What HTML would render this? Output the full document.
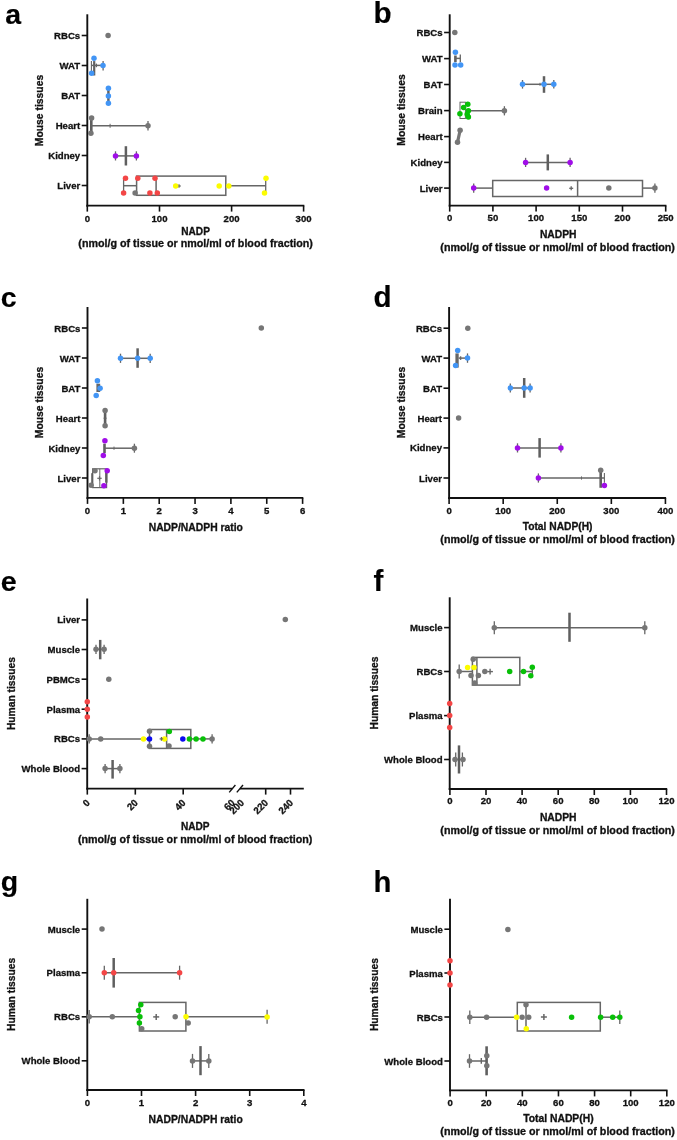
<!DOCTYPE html>
<html><head><meta charset="utf-8"><title>NADP figure</title>
<style>html,body{margin:0;padding:0;background:#fff;}svg{display:block;will-change:transform;}</style></head>
<body><svg width="677" height="1140" viewBox="0 0 677 1140">
<rect width="677" height="1140" fill="#fff"/>
<text x="5.2" y="23.6" font-family="Liberation Sans" font-weight="bold" font-size="28.5" fill="#000" stroke="#000" stroke-width="0.15">a</text>
<line x1="87.3" y1="14.3" x2="87.3" y2="206.55" stroke="#111" stroke-width="1.9"/>
<line x1="81.7" y1="35.5" x2="87.3" y2="35.5" stroke="#111" stroke-width="1.6"/>
<text transform="translate(80.20,39.00) scale(0.98,1)" font-family="Liberation Sans" font-weight="bold" font-size="9.8" text-anchor="end" fill="#111" stroke="#111" stroke-width="0.3">RBCs</text>
<line x1="81.7" y1="65.5" x2="87.3" y2="65.5" stroke="#111" stroke-width="1.6"/>
<text transform="translate(80.20,69.00) scale(0.98,1)" font-family="Liberation Sans" font-weight="bold" font-size="9.8" text-anchor="end" fill="#111" stroke="#111" stroke-width="0.3">WAT</text>
<line x1="81.7" y1="95.5" x2="87.3" y2="95.5" stroke="#111" stroke-width="1.6"/>
<text transform="translate(80.20,99.00) scale(0.98,1)" font-family="Liberation Sans" font-weight="bold" font-size="9.8" text-anchor="end" fill="#111" stroke="#111" stroke-width="0.3">BAT</text>
<line x1="81.7" y1="125.5" x2="87.3" y2="125.5" stroke="#111" stroke-width="1.6"/>
<text transform="translate(80.20,129.00) scale(0.98,1)" font-family="Liberation Sans" font-weight="bold" font-size="9.8" text-anchor="end" fill="#111" stroke="#111" stroke-width="0.3">Heart</text>
<line x1="81.7" y1="155.5" x2="87.3" y2="155.5" stroke="#111" stroke-width="1.6"/>
<text transform="translate(80.20,159.00) scale(0.98,1)" font-family="Liberation Sans" font-weight="bold" font-size="9.8" text-anchor="end" fill="#111" stroke="#111" stroke-width="0.3">Kidney</text>
<line x1="81.7" y1="185.5" x2="87.3" y2="185.5" stroke="#111" stroke-width="1.6"/>
<text transform="translate(80.20,189.00) scale(0.98,1)" font-family="Liberation Sans" font-weight="bold" font-size="9.8" text-anchor="end" fill="#111" stroke="#111" stroke-width="0.3">Liver</text>
<line x1="86.35" y1="205.6" x2="304.3" y2="205.6" stroke="#111" stroke-width="1.9"/>
<line x1="87.3" y1="205.6" x2="87.3" y2="211.6" stroke="#111" stroke-width="1.6"/>
<text transform="translate(87.30,221.70) scale(0.98,1)" font-family="Liberation Sans" font-weight="bold" font-size="9.8" text-anchor="middle" fill="#111" stroke="#111" stroke-width="0.3">0</text>
<line x1="159.5" y1="205.6" x2="159.5" y2="211.6" stroke="#111" stroke-width="1.6"/>
<text transform="translate(159.50,221.70) scale(0.98,1)" font-family="Liberation Sans" font-weight="bold" font-size="9.8" text-anchor="middle" fill="#111" stroke="#111" stroke-width="0.3">100</text>
<line x1="231.6" y1="205.6" x2="231.6" y2="211.6" stroke="#111" stroke-width="1.6"/>
<text transform="translate(231.60,221.70) scale(0.98,1)" font-family="Liberation Sans" font-weight="bold" font-size="9.8" text-anchor="middle" fill="#111" stroke="#111" stroke-width="0.3">200</text>
<line x1="303.6" y1="205.6" x2="303.6" y2="211.6" stroke="#111" stroke-width="1.6"/>
<text transform="translate(303.60,221.70) scale(0.98,1)" font-family="Liberation Sans" font-weight="bold" font-size="9.8" text-anchor="middle" fill="#111" stroke="#111" stroke-width="0.3">300</text>
<text x="0" y="0" font-family="Liberation Sans" font-weight="bold" font-size="10.4" text-anchor="middle" fill="#111" stroke="#111" stroke-width="0.3" transform="translate(43.0,110.5) rotate(-90)" textLength="71.5" lengthAdjust="spacingAndGlyphs">Mouse tissues</text>
<text x="195.6" y="234.8" font-family="Liberation Sans" font-weight="bold" font-size="10.1" text-anchor="middle" fill="#111" stroke="#111" stroke-width="0.3" >NADP</text>
<text x="195.6" y="246.6" font-family="Liberation Sans" font-weight="bold" font-size="10.3" text-anchor="middle" fill="#111" stroke="#111" stroke-width="0.3" textLength="234.5" lengthAdjust="spacingAndGlyphs">(nmol/g of tissue or nmol/ml of blood fraction)</text>
<circle cx="108.1" cy="35.6" r="2.75" fill="#767676"/>
<line x1="91.4" y1="61.1" x2="91.4" y2="74.7" stroke="#666666" stroke-width="1.1"/>
<line x1="94.2" y1="61.1" x2="94.2" y2="75.5" stroke="#5f5f5f" stroke-width="2.2"/>
<line x1="91.4" y1="65.4" x2="103" y2="65.4" stroke="#666666" stroke-width="1.5"/>
<line x1="103.1" y1="61.1" x2="103.1" y2="70.5" stroke="#666666" stroke-width="1.3"/>
<line x1="96.4" y1="63.6" x2="96.4" y2="67.2" stroke="#666666" stroke-width="1.3"/>
<circle cx="94" cy="58.2" r="2.75" fill="#4295f5"/>
<circle cx="91.6" cy="73.2" r="2.75" fill="#4295f5"/>
<circle cx="103" cy="65.5" r="2.75" fill="#4295f5"/>
<line x1="108.4" y1="88.3" x2="108.4" y2="103.3" stroke="#5f5f5f" stroke-width="2.4"/>
<circle cx="108.4" cy="88.3" r="2.75" fill="#4295f5"/>
<circle cx="108.4" cy="95.9" r="2.75" fill="#4295f5"/>
<circle cx="108.4" cy="103.3" r="2.75" fill="#4295f5"/>
<line x1="91.3" y1="119.3" x2="91.3" y2="131.7" stroke="#5f5f5f" stroke-width="2.6"/>
<line x1="91.3" y1="125.8" x2="148" y2="125.8" stroke="#666666" stroke-width="1.5"/>
<line x1="148" y1="121.1" x2="148" y2="130.5" stroke="#666666" stroke-width="1.3"/>
<line x1="110.1" y1="123.8" x2="110.1" y2="127.8" stroke="#666666" stroke-width="1.0"/>
<circle cx="91.6" cy="118.1" r="2.75" fill="#767676"/>
<circle cx="90.9" cy="133.2" r="2.75" fill="#767676"/>
<circle cx="148" cy="125.8" r="2.75" fill="#767676"/>
<line x1="115.5" y1="155.9" x2="136.4" y2="155.9" stroke="#666666" stroke-width="1.5"/>
<line x1="115.5" y1="151.3" x2="115.5" y2="160.5" stroke="#666666" stroke-width="1.3"/>
<line x1="136.4" y1="151.3" x2="136.4" y2="160.5" stroke="#666666" stroke-width="1.3"/>
<line x1="125.9" y1="146.2" x2="125.9" y2="165.5" stroke="#5f5f5f" stroke-width="2.5"/>
<circle cx="115.5" cy="155.9" r="2.75" fill="#a00ee8"/>
<circle cx="136.4" cy="155.9" r="2.75" fill="#a00ee8"/>
<line x1="123.6" y1="178.5" x2="123.6" y2="192.9" stroke="#666666" stroke-width="1.3"/>
<line x1="123.6" y1="185.7" x2="136.6" y2="185.7" stroke="#666666" stroke-width="1.5"/>
<rect x="136.6" y="176.1" width="89.2" height="19.2" fill="none" stroke="#666666" stroke-width="1.5"/>
<line x1="156.1" y1="176.1" x2="156.1" y2="195.3" stroke="#666666" stroke-width="1.5"/>
<line x1="225.8" y1="185.7" x2="265.7" y2="185.7" stroke="#666666" stroke-width="1.5"/>
<line x1="265.7" y1="178.3" x2="265.7" y2="193.1" stroke="#666666" stroke-width="1.3"/>
<circle cx="125.5" cy="178.3" r="2.75" fill="#f34646"/>
<circle cx="137.8" cy="178.3" r="2.75" fill="#f34646"/>
<circle cx="155" cy="178.3" r="2.75" fill="#f34646"/>
<circle cx="123.6" cy="193" r="2.75" fill="#f34646"/>
<circle cx="149.9" cy="193" r="2.75" fill="#f34646"/>
<circle cx="157.3" cy="193" r="2.75" fill="#f34646"/>
<circle cx="135.1" cy="193" r="2.75" fill="#767676"/>
<line x1="177.2" y1="186" x2="180.8" y2="186" stroke="#666666" stroke-width="1.2"/>
<line x1="179" y1="184.2" x2="179" y2="187.8" stroke="#666666" stroke-width="1.2"/>
<circle cx="175.7" cy="186" r="2.75" fill="#fcfc00"/>
<circle cx="219.2" cy="186" r="2.75" fill="#fcfc00"/>
<circle cx="228.8" cy="186" r="2.75" fill="#fcfc00"/>
<circle cx="266" cy="178.3" r="2.75" fill="#fcfc00"/>
<circle cx="264.5" cy="193" r="2.75" fill="#fcfc00"/>
<text x="373.4" y="23.2" font-family="Liberation Sans" font-weight="bold" font-size="29.6" fill="#000" stroke="#000" stroke-width="0.15">b</text>
<line x1="449.7" y1="14.3" x2="449.7" y2="206.55" stroke="#111" stroke-width="1.9"/>
<line x1="444.1" y1="32.5" x2="449.7" y2="32.5" stroke="#111" stroke-width="1.6"/>
<text transform="translate(442.60,36.00) scale(0.98,1)" font-family="Liberation Sans" font-weight="bold" font-size="9.8" text-anchor="end" fill="#111" stroke="#111" stroke-width="0.3">RBCs</text>
<line x1="444.1" y1="58.6" x2="449.7" y2="58.6" stroke="#111" stroke-width="1.6"/>
<text transform="translate(442.60,62.10) scale(0.98,1)" font-family="Liberation Sans" font-weight="bold" font-size="9.8" text-anchor="end" fill="#111" stroke="#111" stroke-width="0.3">WAT</text>
<line x1="444.1" y1="84.5" x2="449.7" y2="84.5" stroke="#111" stroke-width="1.6"/>
<text transform="translate(442.60,88.00) scale(0.98,1)" font-family="Liberation Sans" font-weight="bold" font-size="9.8" text-anchor="end" fill="#111" stroke="#111" stroke-width="0.3">BAT</text>
<line x1="444.1" y1="110.6" x2="449.7" y2="110.6" stroke="#111" stroke-width="1.6"/>
<text transform="translate(442.60,114.10) scale(0.98,1)" font-family="Liberation Sans" font-weight="bold" font-size="9.8" text-anchor="end" fill="#111" stroke="#111" stroke-width="0.3">Brain</text>
<line x1="444.1" y1="136.6" x2="449.7" y2="136.6" stroke="#111" stroke-width="1.6"/>
<text transform="translate(442.60,140.10) scale(0.98,1)" font-family="Liberation Sans" font-weight="bold" font-size="9.8" text-anchor="end" fill="#111" stroke="#111" stroke-width="0.3">Heart</text>
<line x1="444.1" y1="162.4" x2="449.7" y2="162.4" stroke="#111" stroke-width="1.6"/>
<text transform="translate(442.60,165.90) scale(0.98,1)" font-family="Liberation Sans" font-weight="bold" font-size="9.8" text-anchor="end" fill="#111" stroke="#111" stroke-width="0.3">Kidney</text>
<line x1="444.1" y1="188.1" x2="449.7" y2="188.1" stroke="#111" stroke-width="1.6"/>
<text transform="translate(442.60,191.60) scale(0.98,1)" font-family="Liberation Sans" font-weight="bold" font-size="9.8" text-anchor="end" fill="#111" stroke="#111" stroke-width="0.3">Liver</text>
<line x1="448.75" y1="205.6" x2="666.4" y2="205.6" stroke="#111" stroke-width="1.9"/>
<line x1="449.7" y1="205.6" x2="449.7" y2="211.6" stroke="#111" stroke-width="1.6"/>
<text transform="translate(449.70,221.00) scale(0.98,1)" font-family="Liberation Sans" font-weight="bold" font-size="9.8" text-anchor="middle" fill="#111" stroke="#111" stroke-width="0.3">0</text>
<line x1="492.9" y1="205.6" x2="492.9" y2="211.6" stroke="#111" stroke-width="1.6"/>
<text transform="translate(492.90,221.00) scale(0.98,1)" font-family="Liberation Sans" font-weight="bold" font-size="9.8" text-anchor="middle" fill="#111" stroke="#111" stroke-width="0.3">50</text>
<line x1="536.1" y1="205.6" x2="536.1" y2="211.6" stroke="#111" stroke-width="1.6"/>
<text transform="translate(536.10,221.00) scale(0.98,1)" font-family="Liberation Sans" font-weight="bold" font-size="9.8" text-anchor="middle" fill="#111" stroke="#111" stroke-width="0.3">100</text>
<line x1="579.3" y1="205.6" x2="579.3" y2="211.6" stroke="#111" stroke-width="1.6"/>
<text transform="translate(579.30,221.00) scale(0.98,1)" font-family="Liberation Sans" font-weight="bold" font-size="9.8" text-anchor="middle" fill="#111" stroke="#111" stroke-width="0.3">150</text>
<line x1="622.5" y1="205.6" x2="622.5" y2="211.6" stroke="#111" stroke-width="1.6"/>
<text transform="translate(622.50,221.00) scale(0.98,1)" font-family="Liberation Sans" font-weight="bold" font-size="9.8" text-anchor="middle" fill="#111" stroke="#111" stroke-width="0.3">200</text>
<line x1="665.7" y1="205.6" x2="665.7" y2="211.6" stroke="#111" stroke-width="1.6"/>
<text transform="translate(665.70,221.00) scale(0.98,1)" font-family="Liberation Sans" font-weight="bold" font-size="9.8" text-anchor="middle" fill="#111" stroke="#111" stroke-width="0.3">250</text>
<text x="0" y="0" font-family="Liberation Sans" font-weight="bold" font-size="10.4" text-anchor="middle" fill="#111" stroke="#111" stroke-width="0.3" transform="translate(405.2,110.0) rotate(-90)" textLength="71.5" lengthAdjust="spacingAndGlyphs">Mouse tissues</text>
<text x="558.2" y="238.4" font-family="Liberation Sans" font-weight="bold" font-size="10.3" text-anchor="middle" fill="#111" stroke="#111" stroke-width="0.3" >NADPH</text>
<text x="557.6" y="250.9" font-family="Liberation Sans" font-weight="bold" font-size="10.3" text-anchor="middle" fill="#111" stroke="#111" stroke-width="0.3" textLength="234.5" lengthAdjust="spacingAndGlyphs">(nmol/g of tissue or nmol/ml of blood fraction)</text>
<circle cx="454.8" cy="32.6" r="2.75" fill="#767676"/>
<line x1="455.4" y1="55.5" x2="455.4" y2="62" stroke="#5f5f5f" stroke-width="2.6"/>
<line x1="455.4" y1="58.4" x2="460.3" y2="58.4" stroke="#666666" stroke-width="1.5"/>
<line x1="460.3" y1="54.5" x2="460.3" y2="62.3" stroke="#666666" stroke-width="1.3"/>
<circle cx="455.4" cy="52.3" r="2.75" fill="#4295f5"/>
<circle cx="455" cy="64.9" r="2.75" fill="#4295f5"/>
<circle cx="460.7" cy="64.9" r="2.75" fill="#4295f5"/>
<line x1="522.5" y1="84.3" x2="553.8" y2="84.3" stroke="#666666" stroke-width="1.5"/>
<line x1="522.5" y1="80.0" x2="522.5" y2="88.6" stroke="#666666" stroke-width="1.3"/>
<line x1="553.8" y1="80.0" x2="553.8" y2="88.6" stroke="#666666" stroke-width="1.3"/>
<line x1="544" y1="76.2" x2="544" y2="92.8" stroke="#5f5f5f" stroke-width="2.5"/>
<line x1="540" y1="82.8" x2="540" y2="85.8" stroke="#666666" stroke-width="1.0"/>
<circle cx="522.5" cy="84.3" r="2.75" fill="#4295f5"/>
<circle cx="544" cy="84.3" r="2.75" fill="#4295f5"/>
<circle cx="553.8" cy="84.3" r="2.75" fill="#4295f5"/>
<rect x="460" y="102.2" width="5.4" height="16.3" fill="none" stroke="#666666" stroke-width="1.0"/>
<line x1="465.4" y1="110.8" x2="504.4" y2="110.8" stroke="#666666" stroke-width="1.5"/>
<line x1="504.4" y1="106.2" x2="504.4" y2="115.4" stroke="#666666" stroke-width="1.3"/>
<circle cx="504.4" cy="110.8" r="2.75" fill="#767676"/>
<circle cx="467.8" cy="104.3" r="2.75" fill="#08c008"/>
<circle cx="463.6" cy="107.6" r="2.75" fill="#08c008"/>
<circle cx="468.4" cy="110.8" r="2.75" fill="#08c008"/>
<circle cx="459.9" cy="113.7" r="2.75" fill="#08c008"/>
<circle cx="467.2" cy="114.3" r="2.75" fill="#08c008"/>
<circle cx="468.4" cy="117" r="2.75" fill="#08c008"/>
<line x1="460.1" y1="130.3" x2="457.5" y2="142.3" stroke="#767676" stroke-width="3.2"/>
<circle cx="460.1" cy="130.3" r="2.75" fill="#767676"/>
<circle cx="457.5" cy="142.3" r="2.75" fill="#767676"/>
<line x1="525.6" y1="162.4" x2="570.1" y2="162.4" stroke="#666666" stroke-width="1.5"/>
<line x1="525.6" y1="157.8" x2="525.6" y2="167.0" stroke="#666666" stroke-width="1.3"/>
<line x1="570.1" y1="157.8" x2="570.1" y2="167.0" stroke="#666666" stroke-width="1.3"/>
<line x1="547.8" y1="154.4" x2="547.8" y2="170.4" stroke="#5f5f5f" stroke-width="2.5"/>
<circle cx="525.6" cy="162.4" r="2.75" fill="#a00ee8"/>
<circle cx="570.1" cy="162.4" r="2.75" fill="#a00ee8"/>
<line x1="473.7" y1="183.5" x2="473.7" y2="192.7" stroke="#666666" stroke-width="1.3"/>
<line x1="473.7" y1="188.1" x2="492.7" y2="188.1" stroke="#666666" stroke-width="1.5"/>
<rect x="492.7" y="180.5" width="149.8" height="16.0" fill="none" stroke="#666666" stroke-width="1.5"/>
<line x1="577.6" y1="180.5" x2="577.6" y2="196.5" stroke="#666666" stroke-width="1.5"/>
<line x1="642.5" y1="188.1" x2="654.9" y2="188.1" stroke="#666666" stroke-width="1.5"/>
<line x1="654.9" y1="183.5" x2="654.9" y2="192.7" stroke="#666666" stroke-width="1.3"/>
<circle cx="473.7" cy="188.1" r="2.75" fill="#a00ee8"/>
<circle cx="546.6" cy="188.1" r="2.75" fill="#a00ee8"/>
<line x1="569.2" y1="188.3" x2="573.2" y2="188.3" stroke="#666666" stroke-width="1.3"/>
<line x1="571.2" y1="186.3" x2="571.2" y2="190.3" stroke="#666666" stroke-width="1.3"/>
<circle cx="608.8" cy="188.1" r="2.75" fill="#767676"/>
<circle cx="654.9" cy="188.1" r="2.75" fill="#767676"/>
<text x="0.8" y="307.3" font-family="Liberation Sans" font-weight="bold" font-size="28.5" fill="#000" stroke="#000" stroke-width="0.15">c</text>
<line x1="87.5" y1="307" x2="87.5" y2="498.85" stroke="#111" stroke-width="1.9"/>
<line x1="81.9" y1="328" x2="87.5" y2="328" stroke="#111" stroke-width="1.6"/>
<text transform="translate(80.40,331.50) scale(0.98,1)" font-family="Liberation Sans" font-weight="bold" font-size="9.8" text-anchor="end" fill="#111" stroke="#111" stroke-width="0.3">RBCs</text>
<line x1="81.9" y1="358" x2="87.5" y2="358" stroke="#111" stroke-width="1.6"/>
<text transform="translate(80.40,361.50) scale(0.98,1)" font-family="Liberation Sans" font-weight="bold" font-size="9.8" text-anchor="end" fill="#111" stroke="#111" stroke-width="0.3">WAT</text>
<line x1="81.9" y1="388" x2="87.5" y2="388" stroke="#111" stroke-width="1.6"/>
<text transform="translate(80.40,391.50) scale(0.98,1)" font-family="Liberation Sans" font-weight="bold" font-size="9.8" text-anchor="end" fill="#111" stroke="#111" stroke-width="0.3">BAT</text>
<line x1="81.9" y1="418" x2="87.5" y2="418" stroke="#111" stroke-width="1.6"/>
<text transform="translate(80.40,421.50) scale(0.98,1)" font-family="Liberation Sans" font-weight="bold" font-size="9.8" text-anchor="end" fill="#111" stroke="#111" stroke-width="0.3">Heart</text>
<line x1="81.9" y1="448" x2="87.5" y2="448" stroke="#111" stroke-width="1.6"/>
<text transform="translate(80.40,451.50) scale(0.98,1)" font-family="Liberation Sans" font-weight="bold" font-size="9.8" text-anchor="end" fill="#111" stroke="#111" stroke-width="0.3">Kidney</text>
<line x1="81.9" y1="478" x2="87.5" y2="478" stroke="#111" stroke-width="1.6"/>
<text transform="translate(80.40,481.50) scale(0.98,1)" font-family="Liberation Sans" font-weight="bold" font-size="9.8" text-anchor="end" fill="#111" stroke="#111" stroke-width="0.3">Liver</text>
<line x1="86.55" y1="497.9" x2="303.3" y2="497.9" stroke="#111" stroke-width="1.9"/>
<line x1="87.5" y1="497.9" x2="87.5" y2="503.9" stroke="#111" stroke-width="1.6"/>
<text transform="translate(87.50,514.40) scale(0.98,1)" font-family="Liberation Sans" font-weight="bold" font-size="9.8" text-anchor="middle" fill="#111" stroke="#111" stroke-width="0.3">0</text>
<line x1="123.35" y1="497.9" x2="123.35" y2="503.9" stroke="#111" stroke-width="1.6"/>
<text transform="translate(123.35,514.40) scale(0.98,1)" font-family="Liberation Sans" font-weight="bold" font-size="9.8" text-anchor="middle" fill="#111" stroke="#111" stroke-width="0.3">1</text>
<line x1="159.2" y1="497.9" x2="159.2" y2="503.9" stroke="#111" stroke-width="1.6"/>
<text transform="translate(159.20,514.40) scale(0.98,1)" font-family="Liberation Sans" font-weight="bold" font-size="9.8" text-anchor="middle" fill="#111" stroke="#111" stroke-width="0.3">2</text>
<line x1="195.05" y1="497.9" x2="195.05" y2="503.9" stroke="#111" stroke-width="1.6"/>
<text transform="translate(195.05,514.40) scale(0.98,1)" font-family="Liberation Sans" font-weight="bold" font-size="9.8" text-anchor="middle" fill="#111" stroke="#111" stroke-width="0.3">3</text>
<line x1="230.9" y1="497.9" x2="230.9" y2="503.9" stroke="#111" stroke-width="1.6"/>
<text transform="translate(230.90,514.40) scale(0.98,1)" font-family="Liberation Sans" font-weight="bold" font-size="9.8" text-anchor="middle" fill="#111" stroke="#111" stroke-width="0.3">4</text>
<line x1="266.75" y1="497.9" x2="266.75" y2="503.9" stroke="#111" stroke-width="1.6"/>
<text transform="translate(266.75,514.40) scale(0.98,1)" font-family="Liberation Sans" font-weight="bold" font-size="9.8" text-anchor="middle" fill="#111" stroke="#111" stroke-width="0.3">5</text>
<line x1="302.6" y1="497.9" x2="302.6" y2="503.9" stroke="#111" stroke-width="1.6"/>
<text transform="translate(302.60,514.40) scale(0.98,1)" font-family="Liberation Sans" font-weight="bold" font-size="9.8" text-anchor="middle" fill="#111" stroke="#111" stroke-width="0.3">6</text>
<text x="0" y="0" font-family="Liberation Sans" font-weight="bold" font-size="10.4" text-anchor="middle" fill="#111" stroke="#111" stroke-width="0.3" transform="translate(43.0,402.5) rotate(-90)" textLength="71.5" lengthAdjust="spacingAndGlyphs">Mouse tissues</text>
<text x="195.8" y="531.4" font-family="Liberation Sans" font-weight="bold" font-size="10.3" text-anchor="middle" fill="#111" stroke="#111" stroke-width="0.3" textLength="94.2" lengthAdjust="spacingAndGlyphs">NADP/NADPH ratio</text>
<circle cx="261.3" cy="328.1" r="2.75" fill="#767676"/>
<line x1="120.5" y1="358.3" x2="150.2" y2="358.3" stroke="#666666" stroke-width="1.5"/>
<line x1="120.5" y1="353.7" x2="120.5" y2="362.9" stroke="#666666" stroke-width="1.3"/>
<line x1="150.2" y1="353.7" x2="150.2" y2="362.9" stroke="#666666" stroke-width="1.3"/>
<line x1="137.6" y1="348.3" x2="137.6" y2="367.8" stroke="#5f5f5f" stroke-width="2.5"/>
<circle cx="120.5" cy="358.3" r="2.75" fill="#4295f5"/>
<circle cx="137.6" cy="358.3" r="2.75" fill="#4295f5"/>
<circle cx="150.2" cy="358.3" r="2.75" fill="#4295f5"/>
<rect x="96.4" y="383.7" width="3.8" height="8.3" fill="#666666"/>
<circle cx="97.4" cy="380.8" r="2.75" fill="#4295f5"/>
<circle cx="100.1" cy="388.2" r="2.75" fill="#4295f5"/>
<circle cx="96.2" cy="395.6" r="2.75" fill="#4295f5"/>
<line x1="105.1" y1="410.6" x2="105.1" y2="425.8" stroke="#5f5f5f" stroke-width="2.6"/>
<line x1="103.5" y1="418.2" x2="106.7" y2="418.2" stroke="#666666" stroke-width="0.9"/>
<circle cx="105.1" cy="410.6" r="2.75" fill="#767676"/>
<circle cx="105.1" cy="425.8" r="2.75" fill="#767676"/>
<line x1="104.5" y1="443.7" x2="104.5" y2="453.2" stroke="#5f5f5f" stroke-width="2.6"/>
<line x1="104.5" y1="448.2" x2="134.4" y2="448.2" stroke="#666666" stroke-width="1.5"/>
<line x1="134.4" y1="443.7" x2="134.4" y2="452.7" stroke="#666666" stroke-width="1.3"/>
<line x1="114" y1="446.6" x2="114" y2="449.8" stroke="#666666" stroke-width="1.0"/>
<circle cx="134.4" cy="448.2" r="2.75" fill="#767676"/>
<circle cx="104.9" cy="440.8" r="2.75" fill="#a00ee8"/>
<circle cx="103.3" cy="455.6" r="2.75" fill="#a00ee8"/>
<rect x="92.6" y="468.8" width="14.0" height="18.8" fill="none" stroke="#666666" stroke-width="1.2"/>
<line x1="99.8" y1="468.8" x2="99.8" y2="487.6" stroke="#666666" stroke-width="1.0"/>
<line x1="97.3" y1="478.3" x2="101.7" y2="478.3" stroke="#666666" stroke-width="1.2"/>
<line x1="99.5" y1="476.1" x2="99.5" y2="480.5" stroke="#666666" stroke-width="1.2"/>
<line x1="106.3" y1="471" x2="106.3" y2="482.7" stroke="#5f5f5f" stroke-width="2.4"/>
<line x1="92.2" y1="473.2" x2="92.2" y2="486.6" stroke="#5f5f5f" stroke-width="2.0"/>
<circle cx="95" cy="470.7" r="2.75" fill="#767676"/>
<circle cx="91.1" cy="485.3" r="2.75" fill="#767676"/>
<circle cx="107.2" cy="470.7" r="2.75" fill="#a00ee8"/>
<circle cx="103.9" cy="485.7" r="2.75" fill="#a00ee8"/>
<text x="373.6" y="307.3" font-family="Liberation Sans" font-weight="bold" font-size="29.6" fill="#000" stroke="#000" stroke-width="0.15">d</text>
<line x1="449.1" y1="307" x2="449.1" y2="498.95" stroke="#111" stroke-width="1.9"/>
<line x1="443.5" y1="328.2" x2="449.1" y2="328.2" stroke="#111" stroke-width="1.6"/>
<text transform="translate(442.00,331.70) scale(0.98,1)" font-family="Liberation Sans" font-weight="bold" font-size="9.8" text-anchor="end" fill="#111" stroke="#111" stroke-width="0.3">RBCs</text>
<line x1="443.5" y1="358.1" x2="449.1" y2="358.1" stroke="#111" stroke-width="1.6"/>
<text transform="translate(442.00,361.60) scale(0.98,1)" font-family="Liberation Sans" font-weight="bold" font-size="9.8" text-anchor="end" fill="#111" stroke="#111" stroke-width="0.3">WAT</text>
<line x1="443.5" y1="388.2" x2="449.1" y2="388.2" stroke="#111" stroke-width="1.6"/>
<text transform="translate(442.00,391.70) scale(0.98,1)" font-family="Liberation Sans" font-weight="bold" font-size="9.8" text-anchor="end" fill="#111" stroke="#111" stroke-width="0.3">BAT</text>
<line x1="443.5" y1="418.1" x2="449.1" y2="418.1" stroke="#111" stroke-width="1.6"/>
<text transform="translate(442.00,421.60) scale(0.98,1)" font-family="Liberation Sans" font-weight="bold" font-size="9.8" text-anchor="end" fill="#111" stroke="#111" stroke-width="0.3">Heart</text>
<line x1="443.5" y1="447.9" x2="449.1" y2="447.9" stroke="#111" stroke-width="1.6"/>
<text transform="translate(442.00,451.40) scale(0.98,1)" font-family="Liberation Sans" font-weight="bold" font-size="9.8" text-anchor="end" fill="#111" stroke="#111" stroke-width="0.3">Kidney</text>
<line x1="443.5" y1="478" x2="449.1" y2="478" stroke="#111" stroke-width="1.6"/>
<text transform="translate(442.00,481.50) scale(0.98,1)" font-family="Liberation Sans" font-weight="bold" font-size="9.8" text-anchor="end" fill="#111" stroke="#111" stroke-width="0.3">Liver</text>
<line x1="448.15" y1="498" x2="666.1" y2="498" stroke="#111" stroke-width="1.9"/>
<line x1="449.1" y1="498" x2="449.1" y2="504" stroke="#111" stroke-width="1.6"/>
<text transform="translate(449.10,514.00) scale(0.98,1)" font-family="Liberation Sans" font-weight="bold" font-size="9.8" text-anchor="middle" fill="#111" stroke="#111" stroke-width="0.3">0</text>
<line x1="503.18" y1="498" x2="503.18" y2="504" stroke="#111" stroke-width="1.6"/>
<text transform="translate(503.18,514.00) scale(0.98,1)" font-family="Liberation Sans" font-weight="bold" font-size="9.8" text-anchor="middle" fill="#111" stroke="#111" stroke-width="0.3">100</text>
<line x1="557.26" y1="498" x2="557.26" y2="504" stroke="#111" stroke-width="1.6"/>
<text transform="translate(557.26,514.00) scale(0.98,1)" font-family="Liberation Sans" font-weight="bold" font-size="9.8" text-anchor="middle" fill="#111" stroke="#111" stroke-width="0.3">200</text>
<line x1="611.34" y1="498" x2="611.34" y2="504" stroke="#111" stroke-width="1.6"/>
<text transform="translate(611.34,514.00) scale(0.98,1)" font-family="Liberation Sans" font-weight="bold" font-size="9.8" text-anchor="middle" fill="#111" stroke="#111" stroke-width="0.3">300</text>
<line x1="665.42" y1="498" x2="665.42" y2="504" stroke="#111" stroke-width="1.6"/>
<text transform="translate(665.42,514.00) scale(0.98,1)" font-family="Liberation Sans" font-weight="bold" font-size="9.8" text-anchor="middle" fill="#111" stroke="#111" stroke-width="0.3">400</text>
<text x="0" y="0" font-family="Liberation Sans" font-weight="bold" font-size="10.4" text-anchor="middle" fill="#111" stroke="#111" stroke-width="0.3" transform="translate(405.2,402.5) rotate(-90)" textLength="71.5" lengthAdjust="spacingAndGlyphs">Mouse tissues</text>
<text x="557.6" y="530.2" font-family="Liberation Sans" font-weight="bold" font-size="10.3" text-anchor="middle" fill="#111" stroke="#111" stroke-width="0.3" textLength="69.8" lengthAdjust="spacingAndGlyphs">Total NADP(H)</text>
<text x="557.6" y="542.8" font-family="Liberation Sans" font-weight="bold" font-size="10.3" text-anchor="middle" fill="#111" stroke="#111" stroke-width="0.3" textLength="234.5" lengthAdjust="spacingAndGlyphs">(nmol/g of tissue or nmol/ml of blood fraction)</text>
<circle cx="467.8" cy="328.2" r="2.75" fill="#767676"/>
<rect x="455.4" y="353.4" width="3.3" height="14.2" fill="#666666"/>
<line x1="458.7" y1="358.1" x2="467.5" y2="358.1" stroke="#666666" stroke-width="1.5"/>
<line x1="467.5" y1="353.4" x2="467.5" y2="362.8" stroke="#666666" stroke-width="1.3"/>
<line x1="460.6" y1="356.3" x2="460.6" y2="359.9" stroke="#666666" stroke-width="1.4"/>
<circle cx="457.7" cy="350.5" r="2.75" fill="#4295f5"/>
<circle cx="455.6" cy="365.6" r="2.75" fill="#4295f5"/>
<circle cx="467.5" cy="358.1" r="2.75" fill="#4295f5"/>
<line x1="510.3" y1="388" x2="530.1" y2="388" stroke="#666666" stroke-width="1.5"/>
<line x1="510.3" y1="383.4" x2="510.3" y2="392.6" stroke="#666666" stroke-width="1.3"/>
<line x1="530.1" y1="383.4" x2="530.1" y2="392.6" stroke="#666666" stroke-width="1.3"/>
<line x1="524.2" y1="378" x2="524.2" y2="397.8" stroke="#5f5f5f" stroke-width="2.5"/>
<circle cx="510.3" cy="388" r="2.75" fill="#4295f5"/>
<circle cx="524.2" cy="388" r="2.75" fill="#4295f5"/>
<circle cx="530.1" cy="388" r="2.75" fill="#4295f5"/>
<circle cx="458.6" cy="418.1" r="2.75" fill="#767676"/>
<line x1="517.5" y1="447.9" x2="560.9" y2="447.9" stroke="#666666" stroke-width="1.5"/>
<line x1="517.5" y1="443.3" x2="517.5" y2="452.5" stroke="#666666" stroke-width="1.3"/>
<line x1="560.9" y1="443.3" x2="560.9" y2="452.5" stroke="#666666" stroke-width="1.3"/>
<line x1="539.6" y1="438.1" x2="539.6" y2="457.6" stroke="#5f5f5f" stroke-width="2.5"/>
<circle cx="517.5" cy="447.9" r="2.75" fill="#a00ee8"/>
<circle cx="560.9" cy="447.9" r="2.75" fill="#a00ee8"/>
<line x1="538.4" y1="478" x2="604.4" y2="478" stroke="#666666" stroke-width="1.5"/>
<line x1="538.4" y1="473.4" x2="538.4" y2="482.6" stroke="#666666" stroke-width="1.3"/>
<line x1="581.5" y1="476.4" x2="581.5" y2="479.6" stroke="#666666" stroke-width="1.0"/>
<line x1="600.7" y1="471.6" x2="600.7" y2="487.8" stroke="#5f5f5f" stroke-width="2.6"/>
<line x1="604.4" y1="473" x2="604.4" y2="482.7" stroke="#666666" stroke-width="1.1"/>
<circle cx="538.4" cy="478" r="2.75" fill="#a00ee8"/>
<circle cx="600.7" cy="470.2" r="2.75" fill="#767676"/>
<circle cx="604.4" cy="485.4" r="2.75" fill="#a00ee8"/>
<text x="0.8" y="591.4" font-family="Liberation Sans" font-weight="bold" font-size="28.5" fill="#000" stroke="#000" stroke-width="0.15">e</text>
<line x1="87.2" y1="598.5" x2="87.2" y2="789.55" stroke="#111" stroke-width="1.9"/>
<line x1="81.6" y1="619.9" x2="87.2" y2="619.9" stroke="#111" stroke-width="1.6"/>
<text transform="translate(80.10,623.40) scale(0.98,1)" font-family="Liberation Sans" font-weight="bold" font-size="9.8" text-anchor="end" fill="#111" stroke="#111" stroke-width="0.3">Liver</text>
<line x1="81.6" y1="649.5" x2="87.2" y2="649.5" stroke="#111" stroke-width="1.6"/>
<text transform="translate(80.10,653.00) scale(0.98,1)" font-family="Liberation Sans" font-weight="bold" font-size="9.8" text-anchor="end" fill="#111" stroke="#111" stroke-width="0.3">Muscle</text>
<line x1="81.6" y1="679.2" x2="87.2" y2="679.2" stroke="#111" stroke-width="1.6"/>
<text transform="translate(80.10,682.70) scale(0.98,1)" font-family="Liberation Sans" font-weight="bold" font-size="9.8" text-anchor="end" fill="#111" stroke="#111" stroke-width="0.3">PBMCs</text>
<line x1="81.6" y1="709.2" x2="87.2" y2="709.2" stroke="#111" stroke-width="1.6"/>
<text transform="translate(80.10,712.70) scale(0.98,1)" font-family="Liberation Sans" font-weight="bold" font-size="9.8" text-anchor="end" fill="#111" stroke="#111" stroke-width="0.3">Plasma</text>
<line x1="81.6" y1="738.9" x2="87.2" y2="738.9" stroke="#111" stroke-width="1.6"/>
<text transform="translate(80.10,742.40) scale(0.98,1)" font-family="Liberation Sans" font-weight="bold" font-size="9.8" text-anchor="end" fill="#111" stroke="#111" stroke-width="0.3">RBCs</text>
<line x1="81.6" y1="768.6" x2="87.2" y2="768.6" stroke="#111" stroke-width="1.6"/>
<text transform="translate(80.10,772.10) scale(0.98,1)" font-family="Liberation Sans" font-weight="bold" font-size="9.8" text-anchor="end" fill="#111" stroke="#111" stroke-width="0.3">Whole Blood</text>
<line x1="86.4" y1="788.6" x2="232.3" y2="788.6" stroke="#111" stroke-width="1.9"/>
<line x1="240.0" y1="788.6" x2="303.8" y2="788.6" stroke="#111" stroke-width="1.9"/>
<line x1="87.3" y1="788.6" x2="87.3" y2="794.6" stroke="#111" stroke-width="1.6"/>
<line x1="135.3" y1="788.6" x2="135.3" y2="794.6" stroke="#111" stroke-width="1.6"/>
<line x1="183.2" y1="788.6" x2="183.2" y2="794.6" stroke="#111" stroke-width="1.6"/>
<line x1="265.7" y1="788.6" x2="265.7" y2="794.6" stroke="#111" stroke-width="1.6"/>
<line x1="290.5" y1="788.6" x2="290.5" y2="794.6" stroke="#111" stroke-width="1.6"/>
<line x1="229.2" y1="792.4" x2="235.4" y2="785.0" stroke="#111" stroke-width="1.4"/>
<line x1="236.8" y1="792.4" x2="243.0" y2="785.0" stroke="#111" stroke-width="1.4"/>
<text x="0" y="0" font-family="Liberation Sans" font-weight="bold" font-size="9.8" text-anchor="end" fill="#111" stroke="#111" stroke-width="0.3" transform="translate(90.5,803.5) rotate(-45) scale(0.98,1)">0</text>
<text x="0" y="0" font-family="Liberation Sans" font-weight="bold" font-size="9.8" text-anchor="end" fill="#111" stroke="#111" stroke-width="0.3" transform="translate(138.5,803.5) rotate(-45) scale(0.98,1)">20</text>
<text x="0" y="0" font-family="Liberation Sans" font-weight="bold" font-size="9.8" text-anchor="end" fill="#111" stroke="#111" stroke-width="0.3" transform="translate(186.4,803.5) rotate(-45) scale(0.98,1)">40</text>
<text x="0" y="0" font-family="Liberation Sans" font-weight="bold" font-size="9.8" text-anchor="end" fill="#111" stroke="#111" stroke-width="0.3" transform="translate(235.6,803.5) rotate(-45) scale(0.98,1)">60</text>
<text x="0" y="0" font-family="Liberation Sans" font-weight="bold" font-size="9.8" text-anchor="end" fill="#111" stroke="#111" stroke-width="0.3" transform="translate(244.7,803.5) rotate(-45) scale(0.98,1)">200</text>
<text x="0" y="0" font-family="Liberation Sans" font-weight="bold" font-size="9.8" text-anchor="end" fill="#111" stroke="#111" stroke-width="0.3" transform="translate(268.9,803.5) rotate(-45) scale(0.98,1)">220</text>
<text x="0" y="0" font-family="Liberation Sans" font-weight="bold" font-size="9.8" text-anchor="end" fill="#111" stroke="#111" stroke-width="0.3" transform="translate(293.7,803.5) rotate(-45) scale(0.98,1)">240</text>
<text x="0" y="0" font-family="Liberation Sans" font-weight="bold" font-size="10.4" text-anchor="middle" fill="#111" stroke="#111" stroke-width="0.3" transform="translate(15.0,693.6) rotate(-90)" textLength="73.0" lengthAdjust="spacingAndGlyphs">Human tissues</text>
<text x="195.2" y="829.6" font-family="Liberation Sans" font-weight="bold" font-size="10.1" text-anchor="middle" fill="#111" stroke="#111" stroke-width="0.3" >NADP</text>
<text x="195.2" y="842.5" font-family="Liberation Sans" font-weight="bold" font-size="10.3" text-anchor="middle" fill="#111" stroke="#111" stroke-width="0.3" textLength="234.5" lengthAdjust="spacingAndGlyphs">(nmol/g of tissue or nmol/ml of blood fraction)</text>
<circle cx="285.3" cy="619.5" r="2.75" fill="#767676"/>
<line x1="96" y1="649.3" x2="104.1" y2="649.3" stroke="#666666" stroke-width="1.5"/>
<line x1="96" y1="644.7" x2="96" y2="653.9" stroke="#666666" stroke-width="1.3"/>
<line x1="104.1" y1="644.7" x2="104.1" y2="653.9" stroke="#666666" stroke-width="1.3"/>
<line x1="100.2" y1="639.9" x2="100.2" y2="659.3" stroke="#5f5f5f" stroke-width="2.5"/>
<circle cx="96" cy="649.3" r="2.75" fill="#767676"/>
<circle cx="104.1" cy="649.3" r="2.75" fill="#767676"/>
<circle cx="108.8" cy="679.2" r="2.75" fill="#767676"/>
<circle cx="87.3" cy="701.8" r="2.75" fill="#f34646"/>
<circle cx="87.3" cy="709.3" r="2.75" fill="#f34646"/>
<circle cx="87.3" cy="716.9" r="2.75" fill="#f34646"/>
<line x1="89.2" y1="738.9" x2="149.5" y2="738.9" stroke="#666666" stroke-width="1.5"/>
<line x1="89.2" y1="734.3" x2="89.2" y2="743.5" stroke="#666666" stroke-width="1.3"/>
<rect x="149.5" y="729.5" width="41.3" height="18.9" fill="none" stroke="#666666" stroke-width="1.5"/>
<line x1="166.6" y1="729.5" x2="166.6" y2="748.4" stroke="#666666" stroke-width="1.5"/>
<line x1="190.8" y1="738.9" x2="212.1" y2="738.9" stroke="#666666" stroke-width="1.5"/>
<line x1="212.1" y1="734.3" x2="212.1" y2="743.5" stroke="#666666" stroke-width="1.3"/>
<circle cx="89.2" cy="738.9" r="2.75" fill="#767676"/>
<circle cx="100.7" cy="738.9" r="2.75" fill="#767676"/>
<circle cx="212.1" cy="738.9" r="2.75" fill="#767676"/>
<circle cx="149.5" cy="731.2" r="2.75" fill="#767676"/>
<circle cx="149.5" cy="746.2" r="2.75" fill="#767676"/>
<circle cx="169" cy="746" r="2.75" fill="#767676"/>
<circle cx="143.5" cy="738.9" r="2.75" fill="#fcfc00"/>
<circle cx="149.5" cy="738.9" r="2.75" fill="#0b0bf0"/>
<circle cx="164.5" cy="738.9" r="2.75" fill="#fcfc00"/>
<line x1="159.6" y1="738.9" x2="163.2" y2="738.9" stroke="#666666" stroke-width="1.2"/>
<line x1="161.4" y1="737.1" x2="161.4" y2="740.7" stroke="#666666" stroke-width="1.2"/>
<circle cx="169.3" cy="731.6" r="2.75" fill="#08c008"/>
<circle cx="182.8" cy="738.9" r="2.75" fill="#0b0bf0"/>
<circle cx="189.4" cy="738.9" r="2.75" fill="#08c008"/>
<circle cx="196.1" cy="738.9" r="2.75" fill="#08c008"/>
<circle cx="203" cy="738.9" r="2.75" fill="#08c008"/>
<line x1="105.1" y1="768.6" x2="119.9" y2="768.6" stroke="#666666" stroke-width="1.5"/>
<line x1="105.1" y1="764.0" x2="105.1" y2="773.2" stroke="#666666" stroke-width="1.3"/>
<line x1="119.9" y1="764.0" x2="119.9" y2="773.2" stroke="#666666" stroke-width="1.3"/>
<line x1="112.6" y1="760" x2="112.6" y2="778.6" stroke="#5f5f5f" stroke-width="2.5"/>
<circle cx="105.1" cy="768.6" r="2.75" fill="#767676"/>
<circle cx="119.9" cy="768.6" r="2.75" fill="#767676"/>
<text x="373.6" y="591.0" font-family="Liberation Sans" font-weight="bold" font-size="29.6" fill="#000" stroke="#000" stroke-width="0.15">f</text>
<line x1="449.7" y1="597.3" x2="449.7" y2="789.95" stroke="#111" stroke-width="1.9"/>
<line x1="444.1" y1="627.6" x2="449.7" y2="627.6" stroke="#111" stroke-width="1.6"/>
<text transform="translate(442.60,631.10) scale(0.98,1)" font-family="Liberation Sans" font-weight="bold" font-size="9.8" text-anchor="end" fill="#111" stroke="#111" stroke-width="0.3">Muscle</text>
<line x1="444.1" y1="671.5" x2="449.7" y2="671.5" stroke="#111" stroke-width="1.6"/>
<text transform="translate(442.60,675.00) scale(0.98,1)" font-family="Liberation Sans" font-weight="bold" font-size="9.8" text-anchor="end" fill="#111" stroke="#111" stroke-width="0.3">RBCs</text>
<line x1="444.1" y1="715.6" x2="449.7" y2="715.6" stroke="#111" stroke-width="1.6"/>
<text transform="translate(442.60,719.10) scale(0.98,1)" font-family="Liberation Sans" font-weight="bold" font-size="9.8" text-anchor="end" fill="#111" stroke="#111" stroke-width="0.3">Plasma</text>
<line x1="444.1" y1="759.5" x2="449.7" y2="759.5" stroke="#111" stroke-width="1.6"/>
<text transform="translate(442.60,763.00) scale(0.98,1)" font-family="Liberation Sans" font-weight="bold" font-size="9.8" text-anchor="end" fill="#111" stroke="#111" stroke-width="0.3">Whole Blood</text>
<line x1="448.75" y1="789.0" x2="667.2" y2="789.0" stroke="#111" stroke-width="1.9"/>
<line x1="449.9" y1="789.0" x2="449.9" y2="795.0" stroke="#111" stroke-width="1.6"/>
<text transform="translate(449.90,804.40) scale(0.98,1)" font-family="Liberation Sans" font-weight="bold" font-size="9.8" text-anchor="middle" fill="#111" stroke="#111" stroke-width="0.3">0</text>
<line x1="486.0" y1="789.0" x2="486.0" y2="795.0" stroke="#111" stroke-width="1.6"/>
<text transform="translate(486.00,804.40) scale(0.98,1)" font-family="Liberation Sans" font-weight="bold" font-size="9.8" text-anchor="middle" fill="#111" stroke="#111" stroke-width="0.3">20</text>
<line x1="522.1" y1="789.0" x2="522.1" y2="795.0" stroke="#111" stroke-width="1.6"/>
<text transform="translate(522.10,804.40) scale(0.98,1)" font-family="Liberation Sans" font-weight="bold" font-size="9.8" text-anchor="middle" fill="#111" stroke="#111" stroke-width="0.3">40</text>
<line x1="558.2" y1="789.0" x2="558.2" y2="795.0" stroke="#111" stroke-width="1.6"/>
<text transform="translate(558.20,804.40) scale(0.98,1)" font-family="Liberation Sans" font-weight="bold" font-size="9.8" text-anchor="middle" fill="#111" stroke="#111" stroke-width="0.3">60</text>
<line x1="594.3" y1="789.0" x2="594.3" y2="795.0" stroke="#111" stroke-width="1.6"/>
<text transform="translate(594.30,804.40) scale(0.98,1)" font-family="Liberation Sans" font-weight="bold" font-size="9.8" text-anchor="middle" fill="#111" stroke="#111" stroke-width="0.3">80</text>
<line x1="630.4" y1="789.0" x2="630.4" y2="795.0" stroke="#111" stroke-width="1.6"/>
<text transform="translate(630.40,804.40) scale(0.98,1)" font-family="Liberation Sans" font-weight="bold" font-size="9.8" text-anchor="middle" fill="#111" stroke="#111" stroke-width="0.3">100</text>
<line x1="666.5" y1="789.0" x2="666.5" y2="795.0" stroke="#111" stroke-width="1.6"/>
<text transform="translate(666.50,804.40) scale(0.98,1)" font-family="Liberation Sans" font-weight="bold" font-size="9.8" text-anchor="middle" fill="#111" stroke="#111" stroke-width="0.3">120</text>
<text x="0" y="0" font-family="Liberation Sans" font-weight="bold" font-size="10.4" text-anchor="middle" fill="#111" stroke="#111" stroke-width="0.3" transform="translate(377.8,693.0) rotate(-90)" textLength="73.0" lengthAdjust="spacingAndGlyphs">Human tissues</text>
<text x="558.2" y="820.9" font-family="Liberation Sans" font-weight="bold" font-size="10.3" text-anchor="middle" fill="#111" stroke="#111" stroke-width="0.3" >NADPH</text>
<text x="557.6" y="833.9" font-family="Liberation Sans" font-weight="bold" font-size="10.3" text-anchor="middle" fill="#111" stroke="#111" stroke-width="0.3" textLength="234.5" lengthAdjust="spacingAndGlyphs">(nmol/g of tissue or nmol/ml of blood fraction)</text>
<line x1="494.3" y1="627.8" x2="644.8" y2="627.8" stroke="#666666" stroke-width="1.5"/>
<line x1="494.3" y1="621.3" x2="494.3" y2="634.3" stroke="#666666" stroke-width="1.3"/>
<line x1="644.8" y1="621.3" x2="644.8" y2="634.3" stroke="#666666" stroke-width="1.3"/>
<line x1="569.5" y1="612.7" x2="569.5" y2="641.8" stroke="#5f5f5f" stroke-width="2.5"/>
<circle cx="494.3" cy="627.8" r="2.75" fill="#767676"/>
<circle cx="644.8" cy="627.8" r="2.75" fill="#767676"/>
<line x1="459.2" y1="671.5" x2="472.4" y2="671.5" stroke="#666666" stroke-width="1.5"/>
<line x1="459.2" y1="664.5" x2="459.2" y2="678.5" stroke="#666666" stroke-width="1.3"/>
<rect x="472.4" y="657.4" width="47.4" height="27.7" fill="none" stroke="#666666" stroke-width="1.5"/>
<line x1="476.9" y1="657.4" x2="476.9" y2="685.1" stroke="#666666" stroke-width="1.5"/>
<line x1="519.8" y1="671.5" x2="532.3" y2="671.5" stroke="#666666" stroke-width="1.5"/>
<line x1="532.3" y1="666.5" x2="532.3" y2="676.5" stroke="#666666" stroke-width="1.3"/>
<circle cx="459.2" cy="671.5" r="2.75" fill="#767676"/>
<circle cx="473.2" cy="659.2" r="2.75" fill="#767676"/>
<circle cx="471" cy="675.5" r="2.75" fill="#767676"/>
<circle cx="478.4" cy="675.5" r="2.75" fill="#767676"/>
<circle cx="474.7" cy="683.1" r="2.75" fill="#767676"/>
<circle cx="484.8" cy="671.5" r="2.75" fill="#767676"/>
<circle cx="467.6" cy="667.5" r="2.75" fill="#fcfc00"/>
<circle cx="474" cy="667.5" r="2.75" fill="#fcfc00"/>
<line x1="487.3" y1="671.6" x2="492.9" y2="671.6" stroke="#666666" stroke-width="1.4"/>
<line x1="490.1" y1="668.8" x2="490.1" y2="674.4" stroke="#666666" stroke-width="1.4"/>
<circle cx="509.7" cy="671.5" r="2.75" fill="#08c008"/>
<circle cx="523.5" cy="671.5" r="2.75" fill="#08c008"/>
<circle cx="532.3" cy="667.3" r="2.75" fill="#08c008"/>
<circle cx="530.8" cy="675.7" r="2.75" fill="#08c008"/>
<circle cx="449.7" cy="703.6" r="2.75" fill="#f34646"/>
<circle cx="449.7" cy="715.6" r="2.75" fill="#f34646"/>
<circle cx="449.7" cy="727.6" r="2.75" fill="#f34646"/>
<line x1="455" y1="759.5" x2="463" y2="759.5" stroke="#666666" stroke-width="1.5"/>
<line x1="455.7" y1="752.5" x2="455.7" y2="766.5" stroke="#666666" stroke-width="1.3"/>
<line x1="462.4" y1="752.5" x2="462.4" y2="766.5" stroke="#666666" stroke-width="1.3"/>
<line x1="459" y1="745.4" x2="459" y2="773.5" stroke="#5f5f5f" stroke-width="2.5"/>
<circle cx="455" cy="759.5" r="2.75" fill="#767676"/>
<circle cx="463" cy="759.5" r="2.75" fill="#767676"/>
<text x="0.8" y="891.0" font-family="Liberation Sans" font-weight="bold" font-size="28.5" fill="#000" stroke="#000" stroke-width="0.15">g</text>
<line x1="87.3" y1="898.8" x2="87.3" y2="1090.95" stroke="#111" stroke-width="1.9"/>
<line x1="81.7" y1="929.1" x2="87.3" y2="929.1" stroke="#111" stroke-width="1.6"/>
<text transform="translate(80.20,932.60) scale(0.98,1)" font-family="Liberation Sans" font-weight="bold" font-size="9.8" text-anchor="end" fill="#111" stroke="#111" stroke-width="0.3">Muscle</text>
<line x1="81.7" y1="972.8" x2="87.3" y2="972.8" stroke="#111" stroke-width="1.6"/>
<text transform="translate(80.20,976.30) scale(0.98,1)" font-family="Liberation Sans" font-weight="bold" font-size="9.8" text-anchor="end" fill="#111" stroke="#111" stroke-width="0.3">Plasma</text>
<line x1="81.7" y1="1016.8" x2="87.3" y2="1016.8" stroke="#111" stroke-width="1.6"/>
<text transform="translate(80.20,1020.30) scale(0.98,1)" font-family="Liberation Sans" font-weight="bold" font-size="9.8" text-anchor="end" fill="#111" stroke="#111" stroke-width="0.3">RBCs</text>
<line x1="81.7" y1="1060.8" x2="87.3" y2="1060.8" stroke="#111" stroke-width="1.6"/>
<text transform="translate(80.20,1064.30) scale(0.98,1)" font-family="Liberation Sans" font-weight="bold" font-size="9.8" text-anchor="end" fill="#111" stroke="#111" stroke-width="0.3">Whole Blood</text>
<line x1="86.35" y1="1090.0" x2="304.5" y2="1090.0" stroke="#111" stroke-width="1.9"/>
<line x1="87.4" y1="1090.0" x2="87.4" y2="1096.0" stroke="#111" stroke-width="1.6"/>
<text transform="translate(87.40,1106.40) scale(0.98,1)" font-family="Liberation Sans" font-weight="bold" font-size="9.8" text-anchor="middle" fill="#111" stroke="#111" stroke-width="0.3">0</text>
<line x1="141.5" y1="1090.0" x2="141.5" y2="1096.0" stroke="#111" stroke-width="1.6"/>
<text transform="translate(141.50,1106.40) scale(0.98,1)" font-family="Liberation Sans" font-weight="bold" font-size="9.8" text-anchor="middle" fill="#111" stroke="#111" stroke-width="0.3">1</text>
<line x1="195.6" y1="1090.0" x2="195.6" y2="1096.0" stroke="#111" stroke-width="1.6"/>
<text transform="translate(195.60,1106.40) scale(0.98,1)" font-family="Liberation Sans" font-weight="bold" font-size="9.8" text-anchor="middle" fill="#111" stroke="#111" stroke-width="0.3">2</text>
<line x1="249.7" y1="1090.0" x2="249.7" y2="1096.0" stroke="#111" stroke-width="1.6"/>
<text transform="translate(249.70,1106.40) scale(0.98,1)" font-family="Liberation Sans" font-weight="bold" font-size="9.8" text-anchor="middle" fill="#111" stroke="#111" stroke-width="0.3">3</text>
<line x1="303.8" y1="1090.0" x2="303.8" y2="1096.0" stroke="#111" stroke-width="1.6"/>
<text transform="translate(303.80,1106.40) scale(0.98,1)" font-family="Liberation Sans" font-weight="bold" font-size="9.8" text-anchor="middle" fill="#111" stroke="#111" stroke-width="0.3">4</text>
<text x="0" y="0" font-family="Liberation Sans" font-weight="bold" font-size="10.4" text-anchor="middle" fill="#111" stroke="#111" stroke-width="0.3" transform="translate(15.0,994.4) rotate(-90)" textLength="73.0" lengthAdjust="spacingAndGlyphs">Human tissues</text>
<text x="195.6" y="1123.0" font-family="Liberation Sans" font-weight="bold" font-size="10.3" text-anchor="middle" fill="#111" stroke="#111" stroke-width="0.3" textLength="94.2" lengthAdjust="spacingAndGlyphs">NADP/NADPH ratio</text>
<circle cx="102" cy="929.1" r="2.75" fill="#767676"/>
<line x1="104.3" y1="972.7" x2="179.6" y2="972.7" stroke="#666666" stroke-width="1.5"/>
<line x1="104.3" y1="965.7" x2="104.3" y2="979.7" stroke="#666666" stroke-width="1.3"/>
<line x1="179.6" y1="965.7" x2="179.6" y2="979.7" stroke="#666666" stroke-width="1.3"/>
<line x1="113.7" y1="958" x2="113.7" y2="987.6" stroke="#5f5f5f" stroke-width="2.5"/>
<circle cx="104.3" cy="972.7" r="2.75" fill="#f34646"/>
<circle cx="113.7" cy="972.7" r="2.75" fill="#f34646"/>
<circle cx="179.6" cy="972.7" r="2.75" fill="#f34646"/>
<line x1="89.2" y1="1016.8" x2="139.4" y2="1016.8" stroke="#666666" stroke-width="1.5"/>
<line x1="89.2" y1="1010.1" x2="89.2" y2="1023.5" stroke="#666666" stroke-width="1.3"/>
<rect x="139.4" y="1002.4" width="46.5" height="28.6" fill="none" stroke="#666666" stroke-width="1.5"/>
<line x1="185.9" y1="1016.8" x2="267.1" y2="1016.8" stroke="#666666" stroke-width="1.5"/>
<line x1="267.1" y1="1009.8" x2="267.1" y2="1023.8" stroke="#666666" stroke-width="1.3"/>
<circle cx="89.2" cy="1016.8" r="2.75" fill="#767676"/>
<circle cx="112.3" cy="1016.8" r="2.75" fill="#767676"/>
<circle cx="141.7" cy="1028.7" r="2.75" fill="#767676"/>
<circle cx="175.2" cy="1016.8" r="2.75" fill="#767676"/>
<circle cx="188.2" cy="1023" r="2.75" fill="#767676"/>
<circle cx="140.8" cy="1004.8" r="2.75" fill="#08c008"/>
<circle cx="138.5" cy="1010.6" r="2.75" fill="#08c008"/>
<circle cx="139.9" cy="1016.8" r="2.75" fill="#08c008"/>
<circle cx="139.4" cy="1023" r="2.75" fill="#08c008"/>
<line x1="153.2" y1="1016.9" x2="159.2" y2="1016.9" stroke="#666666" stroke-width="1.5"/>
<line x1="156.2" y1="1013.9" x2="156.2" y2="1019.9" stroke="#666666" stroke-width="1.5"/>
<circle cx="186" cy="1016.8" r="2.75" fill="#fcfc00"/>
<circle cx="267.1" cy="1017" r="2.75" fill="#fcfc00"/>
<line x1="192.5" y1="1060.9" x2="208.8" y2="1060.9" stroke="#666666" stroke-width="1.5"/>
<line x1="192.5" y1="1053.9" x2="192.5" y2="1067.9" stroke="#666666" stroke-width="1.3"/>
<line x1="208.8" y1="1053.9" x2="208.8" y2="1067.9" stroke="#666666" stroke-width="1.3"/>
<line x1="200.5" y1="1046.1" x2="200.5" y2="1075.2" stroke="#5f5f5f" stroke-width="2.5"/>
<circle cx="192.5" cy="1060.9" r="2.75" fill="#767676"/>
<circle cx="208.8" cy="1060.9" r="2.75" fill="#767676"/>
<text x="373.6" y="892.2" font-family="Liberation Sans" font-weight="bold" font-size="29.3" fill="#000" stroke="#000" stroke-width="0.15">h</text>
<line x1="450.0" y1="898.8" x2="450.0" y2="1091.35" stroke="#111" stroke-width="1.9"/>
<line x1="444.4" y1="929.2" x2="450.0" y2="929.2" stroke="#111" stroke-width="1.6"/>
<text transform="translate(442.90,932.70) scale(0.98,1)" font-family="Liberation Sans" font-weight="bold" font-size="9.8" text-anchor="end" fill="#111" stroke="#111" stroke-width="0.3">Muscle</text>
<line x1="444.4" y1="973.0" x2="450.0" y2="973.0" stroke="#111" stroke-width="1.6"/>
<text transform="translate(442.90,976.50) scale(0.98,1)" font-family="Liberation Sans" font-weight="bold" font-size="9.8" text-anchor="end" fill="#111" stroke="#111" stroke-width="0.3">Plasma</text>
<line x1="444.4" y1="1017.0" x2="450.0" y2="1017.0" stroke="#111" stroke-width="1.6"/>
<text transform="translate(442.90,1020.50) scale(0.98,1)" font-family="Liberation Sans" font-weight="bold" font-size="9.8" text-anchor="end" fill="#111" stroke="#111" stroke-width="0.3">RBCs</text>
<line x1="444.4" y1="1061.0" x2="450.0" y2="1061.0" stroke="#111" stroke-width="1.6"/>
<text transform="translate(442.90,1064.50) scale(0.98,1)" font-family="Liberation Sans" font-weight="bold" font-size="9.8" text-anchor="end" fill="#111" stroke="#111" stroke-width="0.3">Whole Blood</text>
<line x1="449.05" y1="1090.4" x2="667.5" y2="1090.4" stroke="#111" stroke-width="1.9"/>
<line x1="450.1" y1="1090.4" x2="450.1" y2="1096.4" stroke="#111" stroke-width="1.6"/>
<text transform="translate(450.10,1106.40) scale(0.98,1)" font-family="Liberation Sans" font-weight="bold" font-size="9.8" text-anchor="middle" fill="#111" stroke="#111" stroke-width="0.3">0</text>
<line x1="486.22" y1="1090.4" x2="486.22" y2="1096.4" stroke="#111" stroke-width="1.6"/>
<text transform="translate(486.22,1106.40) scale(0.98,1)" font-family="Liberation Sans" font-weight="bold" font-size="9.8" text-anchor="middle" fill="#111" stroke="#111" stroke-width="0.3">20</text>
<line x1="522.34" y1="1090.4" x2="522.34" y2="1096.4" stroke="#111" stroke-width="1.6"/>
<text transform="translate(522.34,1106.40) scale(0.98,1)" font-family="Liberation Sans" font-weight="bold" font-size="9.8" text-anchor="middle" fill="#111" stroke="#111" stroke-width="0.3">40</text>
<line x1="558.46" y1="1090.4" x2="558.46" y2="1096.4" stroke="#111" stroke-width="1.6"/>
<text transform="translate(558.46,1106.40) scale(0.98,1)" font-family="Liberation Sans" font-weight="bold" font-size="9.8" text-anchor="middle" fill="#111" stroke="#111" stroke-width="0.3">60</text>
<line x1="594.58" y1="1090.4" x2="594.58" y2="1096.4" stroke="#111" stroke-width="1.6"/>
<text transform="translate(594.58,1106.40) scale(0.98,1)" font-family="Liberation Sans" font-weight="bold" font-size="9.8" text-anchor="middle" fill="#111" stroke="#111" stroke-width="0.3">80</text>
<line x1="630.7" y1="1090.4" x2="630.7" y2="1096.4" stroke="#111" stroke-width="1.6"/>
<text transform="translate(630.70,1106.40) scale(0.98,1)" font-family="Liberation Sans" font-weight="bold" font-size="9.8" text-anchor="middle" fill="#111" stroke="#111" stroke-width="0.3">100</text>
<line x1="666.82" y1="1090.4" x2="666.82" y2="1096.4" stroke="#111" stroke-width="1.6"/>
<text transform="translate(666.82,1106.40) scale(0.98,1)" font-family="Liberation Sans" font-weight="bold" font-size="9.8" text-anchor="middle" fill="#111" stroke="#111" stroke-width="0.3">120</text>
<text x="0" y="0" font-family="Liberation Sans" font-weight="bold" font-size="10.4" text-anchor="middle" fill="#111" stroke="#111" stroke-width="0.3" transform="translate(377.8,994.6) rotate(-90)" textLength="73.0" lengthAdjust="spacingAndGlyphs">Human tissues</text>
<text x="558.4" y="1122.2" font-family="Liberation Sans" font-weight="bold" font-size="10.3" text-anchor="middle" fill="#111" stroke="#111" stroke-width="0.3" textLength="70.5" lengthAdjust="spacingAndGlyphs">Total NADP(H)</text>
<text x="557.6" y="1135.3" font-family="Liberation Sans" font-weight="bold" font-size="10.3" text-anchor="middle" fill="#111" stroke="#111" stroke-width="0.3" textLength="234.5" lengthAdjust="spacingAndGlyphs">(nmol/g of tissue or nmol/ml of blood fraction)</text>
<circle cx="507.9" cy="929.4" r="2.75" fill="#767676"/>
<circle cx="450" cy="960.8" r="2.75" fill="#f34646"/>
<circle cx="450" cy="973.0" r="2.75" fill="#f34646"/>
<circle cx="450" cy="985.1" r="2.75" fill="#f34646"/>
<line x1="469.8" y1="1017.2" x2="517.3" y2="1017.2" stroke="#666666" stroke-width="1.5"/>
<line x1="469.8" y1="1010.5" x2="469.8" y2="1023.9" stroke="#666666" stroke-width="1.3"/>
<rect x="517.3" y="1002.4" width="83.0" height="28.6" fill="none" stroke="#666666" stroke-width="1.5"/>
<line x1="526" y1="1002.4" x2="526" y2="1031" stroke="#666666" stroke-width="1.5"/>
<line x1="600.3" y1="1017.2" x2="619.8" y2="1017.2" stroke="#666666" stroke-width="1.5"/>
<line x1="619.8" y1="1010.5" x2="619.8" y2="1023.9" stroke="#666666" stroke-width="1.3"/>
<circle cx="469.8" cy="1017.2" r="2.75" fill="#767676"/>
<circle cx="486.6" cy="1017.2" r="2.75" fill="#767676"/>
<circle cx="522.1" cy="1017.2" r="2.75" fill="#767676"/>
<circle cx="528.7" cy="1017.2" r="2.75" fill="#767676"/>
<circle cx="526" cy="1004.8" r="2.75" fill="#767676"/>
<circle cx="516.6" cy="1017.2" r="2.75" fill="#fcfc00"/>
<circle cx="526.3" cy="1028.7" r="2.75" fill="#fcfc00"/>
<line x1="540.9" y1="1017.0" x2="546.9" y2="1017.0" stroke="#666666" stroke-width="1.5"/>
<line x1="543.9" y1="1014.0" x2="543.9" y2="1020.0" stroke="#666666" stroke-width="1.5"/>
<circle cx="571.6" cy="1017.2" r="2.75" fill="#08c008"/>
<circle cx="600.6" cy="1017.2" r="2.75" fill="#08c008"/>
<circle cx="612.7" cy="1017.2" r="2.75" fill="#08c008"/>
<circle cx="619.8" cy="1017.2" r="2.75" fill="#08c008"/>
<line x1="469.5" y1="1061" x2="486.6" y2="1061" stroke="#666666" stroke-width="1.5"/>
<line x1="469.5" y1="1054.2" x2="469.5" y2="1067.8" stroke="#666666" stroke-width="1.3"/>
<line x1="481.3" y1="1058.0" x2="481.3" y2="1063.8" stroke="#666666" stroke-width="1.4"/>
<line x1="486.6" y1="1046.3" x2="486.6" y2="1075.3" stroke="#5f5f5f" stroke-width="2.6"/>
<circle cx="469.5" cy="1061" r="2.75" fill="#767676"/>
<circle cx="486.8" cy="1055.8" r="2.75" fill="#767676"/>
<circle cx="486.8" cy="1065.8" r="2.75" fill="#767676"/>
</svg></body></html>
